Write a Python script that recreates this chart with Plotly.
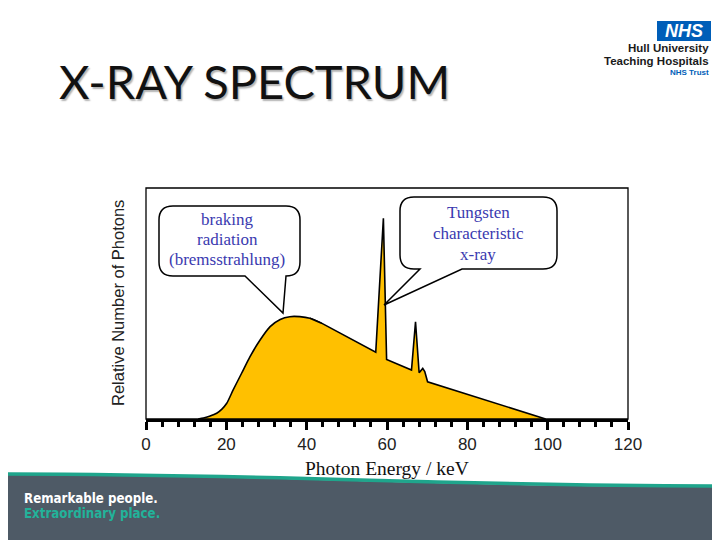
import plotly.graph_objects as go

# ---- data ----
# smooth bremsstrahlung hump
brems_kev = [13.0, 14.3, 15.8, 17.6, 18.9, 20.1, 21.7, 23.8, 25.9, 28.4, 30.9, 33.4, 35.8,
             38.3, 40.8, 43.7]
brems_rel = [0.0, 0.4, 1.2, 2.5, 4.3, 6.8, 12.6, 19.8, 27.0, 34.2, 40.0, 43.1, 44.3,
             44.3, 43.6, 41.5]
# sloping continuum, characteristic lines and high-energy tail
lines_kev = [40.8, 43.7, 57.2, 59.1, 59.9, 66.1, 67.1, 68.0, 68.9, 69.4, 70.1, 99.5]
lines_rel = [43.6, 41.5, 28.9, 86.9, 25.8, 21.2, 42.1, 20.0, 21.9, 20.5, 16.1, 0.0]
x_ticks = [0, 20, 40, 60, 80, 100, 120]
x_ticklabels = ["0", "20", "40", "60", "80", "100", "120"]

# ---- pixel helpers (reference pixels; plot area x 146..628, y 188..419) ----
OFF = 8  # page body margin
L, R, T, B = 146, 628, 188, 419
W, H = R - L, B - T
FW, FH = 720 - OFF, 540 - OFF


def px(x):
    return (x - L) / W


def py(y):
    return (B - y) / H


def pt(x, y):
    return f"{px(x):.5f},{py(y):.5f}"


def bubble(x0, y0, x1, y1, r, tl, tr, tip):
    p = [f"M {pt(x0 + r, y0)}", f"L {pt(x1 - r, y0)}", f"Q {pt(x1, y0)} {pt(x1, y0 + r)}",
         f"L {pt(x1, y1 - r)}", f"Q {pt(x1, y1)} {pt(x1 - r, y1)}",
         f"L {pt(tr, y1)}", f"L {pt(*tip)}", f"L {pt(tl, y1)}",
         f"L {pt(x0 + r, y1)}", f"Q {pt(x0, y1)} {pt(x0, y1 - r)}",
         f"L {pt(x0, y0 + r)}", f"Q {pt(x0, y0)} {pt(x0 + r, y0)}", "Z"]
    return " ".join(p)


fig = go.Figure()
fig.add_trace(go.Scatter(
    x=brems_kev, y=brems_rel, mode="lines", fill="tozeroy", line_shape="spline",
    fillcolor="#FFC000", line=dict(color="black", width=1.6, smoothing=0.6),
    hoverinfo="skip", showlegend=False))
fig.add_trace(go.Scatter(
    x=lines_kev, y=lines_rel, mode="lines", fill="tozeroy",
    fillcolor="#FFC000", line=dict(color="black", width=1.6), hoverinfo="skip",
    showlegend=False))

shapes = []
# chart frame
shapes.append(dict(type="rect", xref="paper", yref="paper", x0=0, x1=1, y0=0, y1=1,
                   line=dict(color="black", width=1.3), layer="above"))
# speech bubbles
shapes.append(dict(type="path", xref="paper", yref="paper",
                   path=bubble(159, 206, 300, 276, 14, 245, 286, (283, 313)),
                   fillcolor="white", line=dict(color="black", width=1.5), layer="above"))
shapes.append(dict(type="path", xref="paper", yref="paper",
                   path=bubble(400, 197, 557, 269, 14, 420, 462, (384, 305)),
                   fillcolor="white", line=dict(color="black", width=1.5), layer="above"))
# footer band
band = (f"M {pt(-10, 475)} C {pt(300, 475)} {pt(420, 487)} {pt(730, 487)} "
        f"L {pt(730, 545)} L {pt(-10, 545)} Z")
shapes.append(dict(type="path", xref="paper", yref="paper", path=band,
                   fillcolor="#4e5a66", line=dict(width=0), layer="above"))
shapes.append(dict(type="path", xref="paper", yref="paper",
                   path=f"M {pt(-10, 474)} C {pt(300, 474)} {pt(420, 486)} {pt(730, 486)}",
                   line=dict(color="#1fa58c", width=3.5), layer="above"))
# NHS box
shapes.append(dict(type="rect", xref="paper", yref="paper",
                   x0=px(657), x1=px(711), y0=py(41), y1=py(21),
                   fillcolor="#005EB8", line=dict(width=0), layer="above"))

ann = []


def text(x, y, s, size, color="black", family="Liberation Sans", xanchor="center",
         angle=0, shadow=None, bold=False):
    f = dict(size=size, color=color, family=family)
    if shadow:
        f["shadow"] = shadow
    if bold:
        f["weight"] = "bold"
    ann.append(dict(x=px(x), y=py(y), xref="paper", yref="paper", text=s, showarrow=False,
                    xanchor=xanchor, yanchor="middle", font=f, textangle=angle))


# title
text(57, 81, "X-RAY SPECTRUM", 47, "#111", family="Lato, Open Sans", xanchor="left",
     shadow="1.5px 1.5px 1.5px rgba(0,0,0,0.3)")
# bubble texts
bc = "#3a3ab0"
text(227, 219, "braking", 17, bc, "Liberation Serif")
text(227, 239, "radiation", 17, bc, "Liberation Serif")
text(227, 259, "(bremsstrahlung)", 17, bc, "Liberation Serif")
text(478, 212, "Tungsten", 17, bc, "Liberation Serif")
text(478, 233, "characteristic", 17, bc, "Liberation Serif")
text(478, 254, "x-ray", 17, bc, "Liberation Serif")
# axis titles
text(118, 303, "Relative Number of Photons", 16.5, "#222", angle=-90)
text(387, 468, "Photon Energy / keV", 19.5, "#111", "Liberation Serif")
# logo
text(684, 31, "<i>NHS</i>", 18, "white", bold=True)
text(711, 47.5, "Hull University", 11.5, "#1a1a1a", xanchor="right", bold=True)
text(711, 60.5, "Teaching Hospitals", 11.5, "#1a1a1a", xanchor="right", bold=True)
text(711, 72.5, "NHS Trust", 8, "#005EB8", xanchor="right", bold=True)
# footer text
text(22, 498, "Remarkable people.", 13.2, "white", "DejaVu Sans Condensed, Liberation Sans",
     xanchor="left", bold=True)
text(22, 513, "Extraordinary place.", 13.2, "#22b39a", "DejaVu Sans Condensed, Liberation Sans",
     xanchor="left", bold=True)

fig.update_layout(
    width=FW, height=FH,
    margin=dict(l=L - OFF, r=FW - (R - OFF), t=T - OFF, b=FH - (B - OFF)),
    paper_bgcolor="white", plot_bgcolor="white",
    shapes=shapes, annotations=ann, showlegend=False,
    xaxis=dict(range=[0, 120], tickvals=x_ticks, ticktext=x_ticklabels,
               ticks="outside", ticklen=8, tickwidth=3, tickcolor="black",
               showline=True, linewidth=3, linecolor="black", showgrid=False,
               zeroline=False, tickfont=dict(family="Liberation Sans", size=17, color="#222"),
               minor=dict(dtick=4, ticks="outside", ticklen=5, tickwidth=3,
                          tickcolor="black", showgrid=False)),
    yaxis=dict(range=[0, 100], showticklabels=False, ticks="", showgrid=False,
               zeroline=False, showline=False),
)
fig.write_html("out.html")
